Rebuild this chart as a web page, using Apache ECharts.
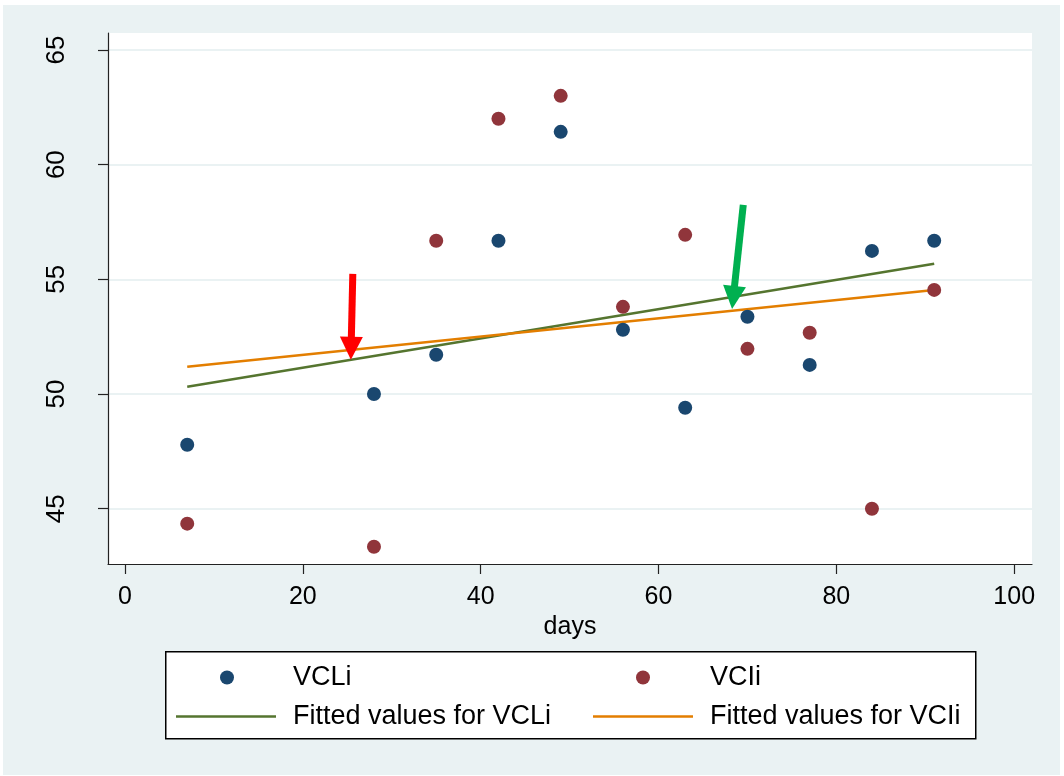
<!DOCTYPE html>
<html>
<head>
<meta charset="utf-8">
<script src="https://cdn.jsdelivr.net/npm/echarts@6/dist/echarts.min.js"></script>
<style>
html,body{margin:0;padding:0;background:#ffffff;width:1064px;height:776px;overflow:hidden;}
#main{position:absolute;left:3px;top:5px;width:1057px;height:770px;}
</style>
</head>
<body>
<div id="main"></div>
<script>
// ---- data ----
const days = [7, 28, 35, 42, 49, 56, 63, 70, 77, 84, 91];
const vcli = [47.79, 50.0, 51.71, 56.68, 61.43, 52.8, 49.4, 53.37, 51.27, 56.24, 56.68];
const vcii = [44.35, 43.34, 56.68, 62.0, 63.0, 53.8, 56.94, 51.97, 52.67, 45.0, 54.54];
const fitDays = [7, 91];
const fitVCLi = [50.32, 55.68];
const fitVCIi = [51.19, 54.54];
const xTicks = [0, 20, 40, 60, 80, 100];
const yTicks = [45, 50, 55, 60, 65];
// annotation arrows: [x start, y start, x end (tip), y end (tip)]
const arrowRed = [25.62, 55.24, 25.40, 51.49];
const arrowGreen = [69.53, 58.25, 68.27, 53.71];
const seriesNames = ['VCLi', 'VCIi', 'Fitted values for VCLi', 'Fitted values for VCIi'];

const FONT = "'Liberation Sans', Arial, sans-serif";
const zip = (a, b) => a.map((v, i) => [v, b[i]]);

const chart = echarts.init(document.getElementById('main'), null, {renderer: 'canvas'});

function legendItem(name, left, top, isLine, pad) {
  return {
    data: [name], left: left, top: top, padding: 0, orient: 'horizontal',
    itemWidth: isLine ? 100 : 14, itemHeight: isLine ? 2.5 : 14,
    icon: isLine ? 'rect' : 'circle',
    selectedMode: false, z: 10,
    textStyle: {fontFamily: FONT, fontSize: 27, color: '#000', padding: [0, 0, 0, pad]}
  };
}

function arrowRender(colors) {
  return function (params, api) {
    const p1 = api.coord([api.value(0), api.value(1)]);
    const p2 = api.coord([api.value(2), api.value(3)]);
    const dx = p2[0] - p1[0], dy = p2[1] - p1[1];
    const len = Math.hypot(dx, dy);
    const ux = dx / len, uy = dy / len;
    const headLen = 23, headW = 23;
    const bx = p2[0] - ux * headLen, by = p2[1] - uy * headLen;
    const nx = -uy, ny = ux;
    const c = colors[params.dataIndex];
    return {
      type: 'group',
      children: [
        {type: 'line', shape: {x1: p1[0], y1: p1[1], x2: bx + ux, y2: by + uy},
         style: {stroke: c, lineWidth: 7}},
        {type: 'polygon', shape: {points: [[p2[0], p2[1]], [bx + nx * headW / 2, by + ny * headW / 2], [bx - nx * headW / 2, by - ny * headW / 2]]},
         style: {fill: c}}
      ]
    };
  };
}

const option = {
  backgroundColor: '#eaf2f3',
  animation: false,
  grid: {left: 105, right: 28, top: 28, bottom: 211, show: true, backgroundColor: '#ffffff', borderWidth: 0},
  xAxis: {
    type: 'value', min: -1.91, max: 102.0,
    name: 'days', nameLocation: 'middle', nameGap: 47,
    nameTextStyle: {fontFamily: FONT, fontSize: 25, color: '#000'},
    axisLine: {show: true, onZero: false, lineStyle: {color: '#222', width: 1.2}},
    axisTick: {show: true, length: 10, customValues: xTicks, lineStyle: {color: '#222', width: 1.2}},
    axisLabel: {customValues: xTicks, margin: 21, fontFamily: FONT, fontSize: 25, color: '#000'},
    splitLine: {show: false}
  },
  yAxis: {
    type: 'value', min: 42.59, max: 65.74,
    axisLine: {show: true, onZero: false, lineStyle: {color: '#222', width: 1.2}},
    axisTick: {show: true, length: 10, customValues: yTicks, lineStyle: {color: '#222', width: 1.2}},
    axisLabel: {customValues: yTicks, rotate: 90, margin: 38, fontFamily: FONT, fontSize: 26, color: '#000'},
    splitLine: {show: true, lineStyle: {color: '#eaf2f3', width: 2}}
  },
  legend: [
    legendItem(seriesNames[0], 217, 659, false, 54),
    legendItem(seriesNames[1], 633, 659, false, 55),
    legendItem(seriesNames[2], 173, 698, true, 12),
    legendItem(seriesNames[3], 590, 698, true, 12)
  ],
  graphic: [
    {type: 'rect', left: 162, top: 646, shape: {width: 810, height: 87},
     style: {fill: '#ffffff', stroke: '#000', lineWidth: 1.5}, z: 1}
  ],
  series: [
    {name: seriesNames[2], type: 'line', data: zip(fitDays, fitVCLi), symbol: 'none',
     lineStyle: {color: '#55752f', width: 2.5}, itemStyle: {color: '#55752f'}, z: 2},
    {name: seriesNames[3], type: 'line', data: zip(fitDays, fitVCIi), symbol: 'none',
     lineStyle: {color: '#e37e00', width: 2.5}, itemStyle: {color: '#e37e00'}, z: 2},
    {name: seriesNames[0], type: 'scatter', data: zip(days, vcli), symbol: 'circle', symbolSize: 14,
     itemStyle: {color: '#1a476f', opacity: 1}, z: 3},
    {name: seriesNames[1], type: 'scatter', data: zip(days, vcii), symbol: 'circle', symbolSize: 14,
     itemStyle: {color: '#90353b', opacity: 1}, z: 3},
    {name: 'arrows', type: 'custom', clip: false, z: 5,
     renderItem: arrowRender(['#ff0000', '#00b050']),
     data: [arrowRed, arrowGreen]}
  ]
};
chart.setOption(option);
</script>
</body>
</html>
